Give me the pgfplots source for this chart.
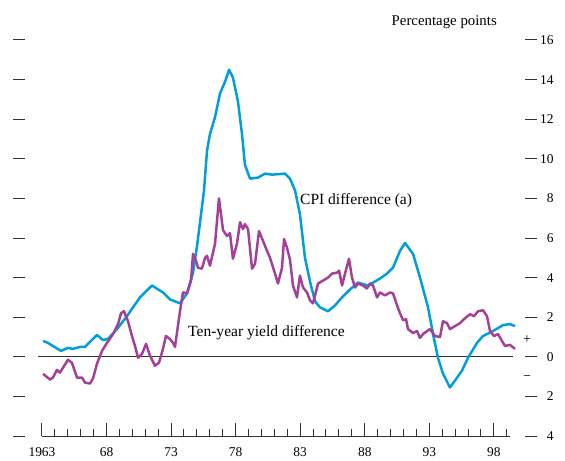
\documentclass[border=0pt]{standalone}
\usepackage{fontspec}
\setmainfont{Liberation Serif}
\usepackage{pgfplots}
\pgfplotsset{compat=1.18}
\definecolor{cpiblue}{RGB}{0,158,219}
\definecolor{yieldpurple}{RGB}{163,65,152}
\definecolor{axgray}{RGB}{50,50,50}

\begin{document}
\begin{tikzpicture}
\begin{axis}[
  at={(0,0)}, anchor=south west,
  scale only axis, width=524bp, height=396bp,
  xmin=1960.754, xmax=2001.342, ymin=-4, ymax=16,
  axis line style={draw=none},
  tick align=inside,
  major tick length=12.5bp, minor tick length=7bp,
  tick style={axgray, line width=1pt},
  xtick={1963,1968,...,1998},
  xticklabels={1963,68,73,78,83,88,93,98},
  minor xtick={1964,...,1999},
  xtick pos=left,
  ytick={-4,-2,...,16},
  yticklabels={4,2,0,2,4,6,8,10,12,14,16},
  ytick pos=both,
  yticklabel pos=right,
  yticklabel style={anchor=east, xshift=20bp, font=\fontsize{13.5}{16}\selectfont},
  xticklabel style={yshift=-8bp, font=\fontsize{13.5}{16}\selectfont},
  clip=false,
]
\draw[axgray, line width=1.1pt] (axis cs:1962.69,0) -- (axis cs:1999.48,0);
\draw[axgray, line width=1pt] (axis cs:1963,-4) -- (axis cs:1999.25,-4);

\addplot[cpiblue, line width=2.5pt, line join=round] coordinates {
(1963.08,0.80) (1963.46,0.70) (1964.47,0.30) (1965.01,0.45) (1965.40,0.40)
(1965.94,0.50) (1966.33,0.50) (1967.26,1.10) (1967.72,0.85) (1968.11,0.90)
(1968.81,1.40) (1969.58,2.05) (1970.05,2.50) (1970.59,3.00) (1971.52,3.60)
(1972.37,3.25) (1972.91,2.90) (1973.69,2.70) (1974.23,3.20) (1974.70,4.25)
(1975.01,5.60) (1975.55,8.40) (1975.78,10.40) (1976.01,11.25) (1976.40,12.10)
(1976.79,13.30) (1977.18,13.90) (1977.49,14.50) (1977.79,14.10) (1978.18,12.90)
(1978.49,11.25) (1978.72,9.70) (1979.11,9.00) (1979.73,9.05) (1980.27,9.25)
(1980.82,9.20) (1981.82,9.25) (1982.21,9.00) (1982.60,8.40) (1982.98,7.20)
(1983.37,5.00) (1983.76,3.80) (1984.15,2.80) (1984.53,2.50) (1985.15,2.30)
(1985.70,2.60) (1986.24,3.00) (1986.86,3.40) (1987.48,3.75) (1988.25,3.60)
(1989.18,3.95) (1989.72,4.20) (1990.19,4.50) (1990.73,5.35) (1991.12,5.75)
(1991.74,5.20) (1992.28,4.00) (1992.90,2.50) (1993.29,1.15) (1993.67,-0.05)
(1994.06,-0.85) (1994.60,-1.55) (1994.99,-1.20) (1995.53,-0.70) (1996.00,-0.05)
(1996.69,0.70) (1997.16,1.05) (1997.93,1.30) (1998.71,1.60) (1999.25,1.65)
(1999.64,1.55)
};

\addplot[yieldpurple, line width=2.5pt, line join=round] coordinates {
(1963.08,-0.86) (1963.62,-1.15) (1963.85,-1.05) (1964.16,-0.66) (1964.39,-0.80)
(1964.63,-0.55) (1965.01,-0.15) (1965.32,-0.30) (1965.71,-1.05) (1966.10,-1.05)
(1966.33,-1.30) (1966.72,-1.35) (1966.95,-1.10) (1967.26,-0.35) (1967.65,0.30)
(1968.03,0.70) (1968.50,1.15) (1968.89,1.65) (1969.12,2.20) (1969.35,2.30)
(1969.66,1.80) (1969.97,1.05) (1970.20,0.55) (1970.44,-0.05) (1970.75,0.15)
(1971.06,0.65) (1971.37,0.05) (1971.75,-0.45) (1972.06,-0.30) (1972.37,0.40)
(1972.60,1.05) (1972.91,0.90) (1973.15,0.70) (1973.30,0.50) (1973.69,2.30)
(1973.92,3.25) (1974.23,3.20) (1974.54,3.85) (1974.70,5.20) (1974.93,4.85)
(1975.08,4.50) (1975.39,4.45) (1975.63,5.00) (1975.78,5.10) (1976.01,4.60)
(1976.40,5.70) (1976.71,8.00) (1977.02,6.40) (1977.33,6.10) (1977.56,6.25)
(1977.79,4.95) (1978.10,5.70) (1978.34,6.80) (1978.57,6.45) (1978.72,6.70)
(1978.96,6.45) (1979.27,4.45) (1979.50,4.70) (1979.81,6.35) (1980.12,5.85)
(1980.43,5.35) (1980.66,5.00) (1981.05,4.20) (1981.28,3.70) (1981.59,4.50)
(1981.75,5.95) (1981.98,5.50) (1982.21,4.90) (1982.44,3.60) (1982.75,3.00)
(1982.98,4.10) (1983.22,3.50) (1983.53,3.25) (1983.76,2.85) (1983.99,2.70)
(1984.15,3.10) (1984.38,3.70) (1984.77,3.85) (1985.15,4.00) (1985.46,4.20)
(1985.85,4.25) (1986.01,4.35) (1986.24,3.60) (1986.47,4.20) (1986.78,4.95)
(1987.01,4.00) (1987.25,3.50) (1987.48,3.70) (1987.86,3.60) (1988.17,3.45)
(1988.41,3.70) (1988.64,3.60) (1988.95,3.00) (1989.18,3.25) (1989.57,3.10)
(1989.96,3.25) (1990.19,3.20) (1990.50,2.60) (1990.73,2.20) (1990.97,1.85)
(1991.20,1.90) (1991.35,1.40) (1991.74,1.20) (1992.05,1.30) (1992.28,0.95)
(1992.51,1.15) (1993.05,1.40) (1993.44,1.05) (1993.83,1.00) (1994.06,1.80)
(1994.37,1.70) (1994.60,1.40) (1994.99,1.55) (1995.38,1.70) (1995.77,1.95)
(1996.15,2.15) (1996.46,2.05) (1996.77,2.30) (1997.16,2.35) (1997.47,2.05)
(1997.70,1.30) (1998.01,1.05) (1998.32,1.15) (1998.63,0.80) (1998.86,0.55)
(1999.25,0.60) (1999.64,0.40)
};

\node[anchor=base west, font=\fontsize{15.6}{18}\selectfont, inner sep=0pt] at (axis cs:1982.98,7.68) {CPI difference (a)};
\node[anchor=base west, font=\fontsize{15.6}{18}\selectfont, inner sep=0pt] at (axis cs:1974.31,1.01) {Ten-year yield difference};
\end{axis}
\node[anchor=base east, font=\fontsize{14.9}{17}\selectfont, inner sep=0pt] at (484bp,410bp) {Percentage points};
\node[font=\fontsize{14}{16}\selectfont, inner sep=0pt] at (514bp,96bp) {+};
\node[font=\fontsize{14}{16}\selectfont, inner sep=0pt] at (514bp,58bp) {−};
\pgfresetboundingbox
\useasboundingbox (-13bp,-25bp) rectangle (552bp,436bp);
\end{tikzpicture}
\end{document}
